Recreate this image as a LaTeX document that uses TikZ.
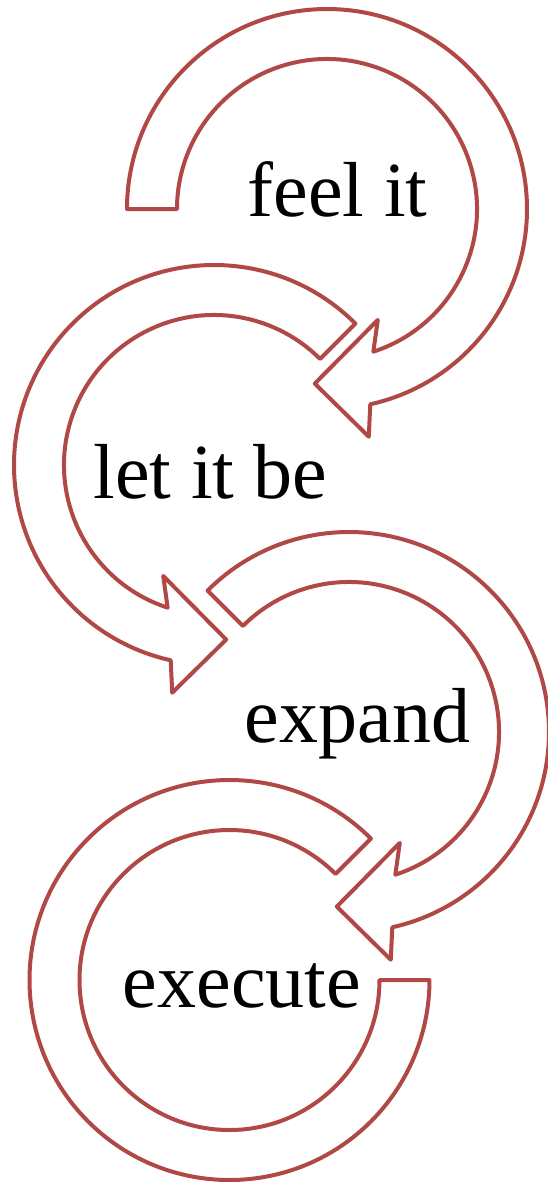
\documentclass[tikz,border=0pt]{standalone}
\usepackage{fontspec}
\setmainfont{Liberation Serif}
\usepackage{tikz}
\usepackage{xcolor}
\definecolor{loopred}{RGB}{176,72,69}

\begin{document}
\begin{tikzpicture}[
  x=0.25pt, y=-0.25pt,
  band/.style={draw=loopred, line width=1pt, fill=white, line join=round},
  word/.style={font=\fontsize{19.5}{22}\selectfont, inner sep=0pt, anchor=base},
  cwarrow/.pic={
    \draw[band] (#1:200) arc[start angle=#1, end angle=437.5, radius=200]
      -- (439.6:231.5) -- (454:175) -- (425.4:122) -- (432:150)
      arc[start angle=432, end angle=#1, radius=150] -- cycle;
  }
]
\useasboundingbox (0,0) rectangle (548,1182);

%% the four loops
\pic at (327,209) {cwarrow=180};
\pic[xscale=-1] at (214,465) {cwarrow=225};
\pic at (349,732) {cwarrow=225};
\draw[band] (229.5,980) ++(-45:200)
      arc[start angle=-45, end angle=-360, radius=200] -- ++(-50,0)
      arc[start angle=0, end angle=315, radius=150] -- cycle;

%% labels
\node[word] (feel)    at (337.5,216)  {feel it};
\node[word] (letbe)   at (210.5,498)  {let it be};
\node[word] (expand)  at (357.5,742)  {expand};
\node[word] (execute) at (242,1007)   {execute};

\end{tikzpicture}
\end{document}
